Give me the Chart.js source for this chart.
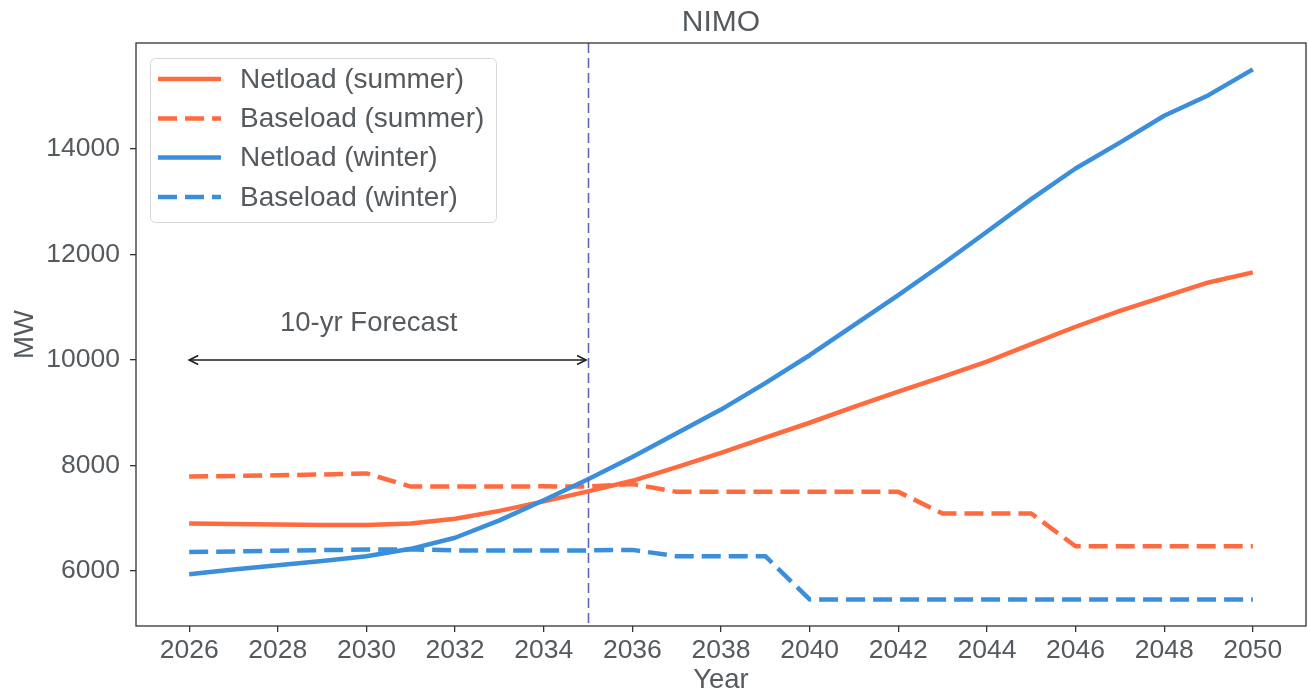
<!DOCTYPE html>
<html>
<head>
<meta charset="utf-8">
<title>NIMO</title>
<script src="https://cdn.jsdelivr.net/npm/chart.js@4.4.1/dist/chart.umd.min.js"></script>
<style>
  html, body { margin: 0; padding: 0; background: #ffffff; }
  #wrap { width: 1308px; height: 694px; position: relative; }
</style>
</head>
<body>
<div id="wrap"><canvas id="chart" width="1308" height="694"></canvas></div>
<script>
// Years on the horizontal axis
const years = [2026, 2027, 2028, 2029, 2030, 2031, 2032, 2033, 2034, 2035, 2036, 2037, 2038,
               2039, 2040, 2041, 2042, 2043, 2044, 2045, 2046, 2047, 2048, 2049, 2050];

// Peak load series (MW)
const netloadSummer = [6900, 6890, 6880, 6870, 6870, 6900, 6990, 7140, 7320, 7510, 7710, 7970, 8240,
                       8530, 8810, 9110, 9400, 9680, 9970, 10300, 10630, 10930, 11200, 11470, 11660];
const baseloadSummer = [7790, 7800, 7815, 7830, 7850, 7600, 7600, 7600, 7605, 7600, 7650, 7500, 7500,
                        7500, 7500, 7500, 7500, 7090, 7090, 7090, 6470, 6470, 6470, 6470, 6470];
const netloadWinter = [5940, 6030, 6110, 6190, 6280, 6420, 6630, 6960, 7340, 7740, 8160, 8610, 9060,
                       9560, 10090, 10660, 11230, 11820, 12430, 13050, 13630, 14120, 14630, 15020, 15510];
const baseloadWinter = [6360, 6370, 6385, 6395, 6405, 6410, 6390, 6390, 6390, 6390, 6400, 6280, 6280,
                        6280, 5460, 5460, 5460, 5460, 5460, 5460, 5460, 5460, 5460, 5460, 5460];

// Axis ticks
const xTicks = [2026, 2028, 2030, 2032, 2034, 2036, 2038, 2040, 2042, 2044, 2046, 2048, 2050];
const yTicks = [6000, 8000, 10000, 12000, 14000];

// Forecast horizon marker
const forecastStart = 2026;
const forecastEnd = 2035;
const forecastArrowLevel = 10000;
const forecastText = '10-yr Forecast';
const forecastTextAt = { x: 2030.05, y: 10700 };

const chartTitle = 'NIMO';

const RED = '#ff6a3f';
const BLUE = '#3a8edb';
const TEXT = '#555a5f';
const FONT = '"Liberation Sans", Arial, Helvetica, sans-serif';

Chart.defaults.font.family = FONT;
Chart.defaults.color = TEXT;

const toPoints = arr => years.map((yr, i) => ({ x: yr, y: arr[i] }));

const series = [
  { label: 'Netload (summer)', values: netloadSummer, color: RED, dash: [] },
  { label: 'Baseload (summer)', values: baseloadSummer, color: RED, dash: [19, 8] },
  { label: 'Netload (winter)', values: netloadWinter, color: BLUE, dash: [] },
  { label: 'Baseload (winter)', values: baseloadWinter, color: BLUE, dash: [19, 8] }
];

const datasets = series.map((s, i) => ({
  label: s.label,
  data: toPoints(s.values),
  borderColor: s.color,
  backgroundColor: s.color,
  borderWidth: 4.5,
  borderDash: s.dash,
  borderCapStyle: 'butt',
  borderJoinStyle: 'round',
  pointRadius: 0,
  pointHoverRadius: 0,
  tension: 0,
  fill: false,
  order: series.length - 1 - i
}));

// Title, frame, forecast marker, annotation and legend
const decorations = {
  id: 'decorations',
  afterDatasetsDraw(chart) {
    const { ctx, chartArea: a, scales: { x, y } } = chart;
    ctx.save();
    // vertical dashed line at the forecast horizon
    const vx = Math.round(x.getPixelForValue(forecastEnd)) + 0.5;
    ctx.strokeStyle = '#6464bb';
    ctx.lineWidth = 1.6;
    ctx.setLineDash([10, 5]);
    ctx.beginPath();
    ctx.moveTo(vx, a.top);
    ctx.lineTo(vx, a.bottom);
    ctx.stroke();
    ctx.setLineDash([]);

    // double headed arrow
    const x0 = x.getPixelForValue(forecastStart);
    const x1 = x.getPixelForValue(forecastEnd) - 2;
    const ay = y.getPixelForValue(forecastArrowLevel);
    ctx.strokeStyle = '#1e1e1e';
    ctx.lineWidth = 1.6;
    ctx.beginPath();
    ctx.moveTo(x0, ay);
    ctx.lineTo(x1, ay);
    ctx.stroke();
    const head = (tipX, dir) => {
      ctx.beginPath();
      ctx.moveTo(tipX + dir * 9, ay - 4.5);
      ctx.lineTo(tipX, ay);
      ctx.lineTo(tipX + dir * 9, ay + 4.5);
      ctx.stroke();
    };
    head(x0, 1);
    head(x1, -1);

    // annotation text
    ctx.fillStyle = TEXT;
    ctx.font = '27.5px ' + FONT;
    ctx.textAlign = 'center';
    ctx.textBaseline = 'middle';
    ctx.fillText(forecastText, x.getPixelForValue(forecastTextAt.x), y.getPixelForValue(forecastTextAt.y));

    // axes frame
    ctx.strokeStyle = '#333333';
    ctx.lineWidth = 1.3;
    ctx.strokeRect(a.left, a.top, a.right - a.left, a.bottom - a.top);

    // title centred over the plot area
    ctx.font = '30px ' + FONT;
    ctx.fillStyle = TEXT;
    ctx.textAlign = 'center';
    ctx.textBaseline = 'middle';
    ctx.fillText(chartTitle, (a.left + a.right) / 2, 23);
    ctx.restore();
  },
  afterDraw(chart) {
    const { ctx } = chart;
    const bx = 150.5, by = 58.5, bw = 346, bh = 164, r = 5;
    ctx.save();
    ctx.beginPath();
    ctx.moveTo(bx + r, by);
    ctx.arcTo(bx + bw, by, bx + bw, by + bh, r);
    ctx.arcTo(bx + bw, by + bh, bx, by + bh, r);
    ctx.arcTo(bx, by + bh, bx, by, r);
    ctx.arcTo(bx, by, bx + bw, by, r);
    ctx.closePath();
    ctx.fillStyle = 'rgba(255,255,255,0.8)';
    ctx.fill();
    ctx.strokeStyle = '#d8d8d8';
    ctx.lineWidth = 1;
    ctx.stroke();

    const rowY = [79, 118.5, 157.5, 197];
    chart.data.datasets.forEach((ds, i) => {
      const ry = rowY[i];
      ctx.strokeStyle = ds.borderColor;
      ctx.lineWidth = 4.5;
      ctx.lineCap = 'butt';
      ctx.setLineDash(ds.borderDash);
      ctx.beginPath();
      ctx.moveTo(158, ry);
      ctx.lineTo(221, ry);
      ctx.stroke();
      ctx.setLineDash([]);
      ctx.fillStyle = TEXT;
      ctx.font = '28px ' + FONT;
      ctx.textAlign = 'left';
      ctx.textBaseline = 'middle';
      ctx.fillText(ds.label, 240, ry + 1);
    });
    ctx.restore();
  }
};

new Chart(document.getElementById('chart'), {
  type: 'line',
  data: { datasets },
  options: {
    responsive: false,
    animation: false,
    events: [],
    layout: { padding: { left: 0, right: 2, top: 43, bottom: 0 } },
    plugins: {
      legend: { display: false },
      tooltip: { enabled: false },
      title: { display: false }
    },
    scales: {
      x: {
        type: 'linear',
        min: 2024.8,
        max: 2051.2,
        afterBuildTicks: scale => { scale.ticks = xTicks.map(v => ({ value: v })); },
        afterFit: scale => { scale.height = 68; },
        ticks: {
          color: TEXT,
          font: { size: 26.5 },
          padding: 3,
          maxRotation: 0,
          autoSkip: false,
          callback: v => String(v)
        },
        grid: { drawOnChartArea: false, drawTicks: true, tickLength: 6, color: '#333333', lineWidth: 1.3 },
        border: { display: false },
        title: {
          display: true,
          text: 'Year',
          color: TEXT,
          font: { size: 27.5, lineHeight: 1.0 },
          padding: { top: 0, bottom: 0 }
        }
      },
      y: {
        type: 'linear',
        min: 4957,
        max: 16009,
        afterBuildTicks: scale => { scale.ticks = yTicks.map(v => ({ value: v })); },
        afterFit: scale => { scale.width = 136; },
        ticks: {
          color: TEXT,
          font: { size: 26.5 },
          padding: 10,
          autoSkip: false,
          callback: v => String(v)
        },
        grid: { drawOnChartArea: false, drawTicks: true, tickLength: 6, color: '#333333', lineWidth: 1.3 },
        border: { display: false },
        title: {
          display: true,
          text: 'MW',
          color: TEXT,
          font: { size: 27.5, lineHeight: 1.2 },
          padding: { top: 9, bottom: 0 }
        }
      }
    }
  },
  plugins: [decorations]
});
</script>
</body>
</html>
